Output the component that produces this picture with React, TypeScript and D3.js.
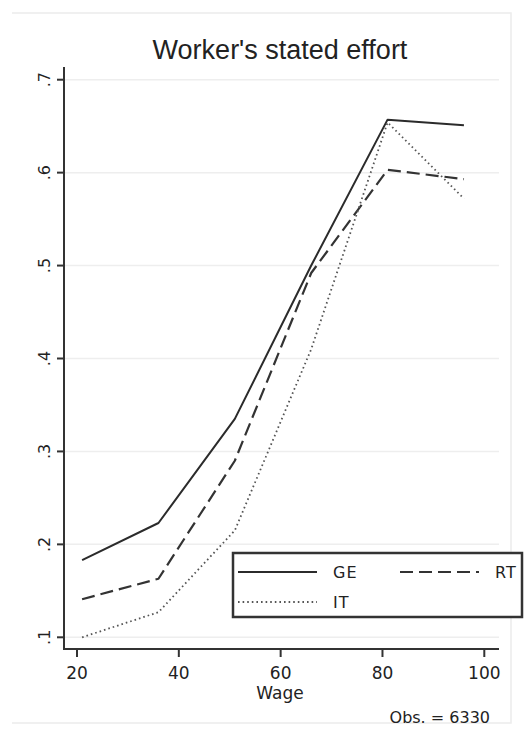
import { useRef, useEffect } from 'react';
import * as d3 from 'd3';

const wages = [21, 36, 51, 66, 81, 96];
const geValues = [0.183, 0.223, 0.335, 0.5, 0.657, 0.651];
const rtValues = [0.141, 0.163, 0.29, 0.492, 0.603, 0.593];
const itValues = [0.1, 0.127, 0.215, 0.41, 0.654, 0.572];
const xTicks = [20, 40, 60, 80, 100];
const yTicks = [0.1, 0.2, 0.3, 0.4, 0.5, 0.6, 0.7];
const yTickLabels = ['.1', '.2', '.3', '.4', '.5', '.6', '.7'];

const series = [
  { name: 'GE', values: geValues, dash: null, width: 2, color: '#2b2b2b' },
  { name: 'RT', values: rtValues, dash: '13,6', width: 2.2, color: '#333' },
  { name: 'IT', values: itValues, dash: '1.6,3', width: 1.8, color: '#555' },
];

export default function App() {
  const ref = useRef<SVGSVGElement>(null);
  const width = 525;
  const height = 734;

  useEffect(() => {
    if (!ref.current) return;
    const svg = d3.select(ref.current);
    svg.selectAll('*').remove();

    const x = d3.scaleLinear().domain([20, 100]).range([77, 484.3]);
    const y = d3.scaleLinear().domain([0.1, 0.7]).range([637.3, 79.7]);
    const left = 64;
    const right = 499;
    const top = 67;
    const bottom = 649;

    svg.append('rect').attr('width', width).attr('height', height).attr('fill', '#fff');

    // faint outer frame
    svg
      .append('path')
      .attr('d', `M12,13H511V723H12`)
      .attr('fill', 'none')
      .attr('stroke', '#ececec')
      .attr('stroke-width', 1.5);

    // grid
    svg
      .append('g')
      .selectAll('line')
      .data(yTicks)
      .join('line')
      .attr('x1', left)
      .attr('x2', right)
      .attr('y1', d => y(d))
      .attr('y2', d => y(d))
      .attr('stroke', '#eeeeee')
      .attr('stroke-width', 1.5);

    // title
    svg
      .append('text')
      .attr('x', 280)
      .attr('y', 59)
      .attr('text-anchor', 'middle')
      .attr('font-family', 'Liberation Sans, Arial, sans-serif')
      .attr('font-size', 27)
      .attr('fill', '#222')
      .text("Worker's stated effort");

    // lines
    const line = d3
      .line<number>()
      .x((_, i) => x(wages[i]))
      .y(d => y(d));

    series.forEach(s => {
      svg
        .append('path')
        .attr('d', line(s.values))
        .attr('fill', 'none')
        .attr('stroke', s.color)
        .attr('stroke-width', s.width)
        .attr('stroke-dasharray', s.dash)
        .attr('stroke-linejoin', 'round');
    });

    // y axis
    const yAxis = svg.append('g');
    yAxis
      .append('line')
      .attr('x1', left)
      .attr('x2', left)
      .attr('y1', top)
      .attr('y2', bottom + 1)
      .attr('stroke', '#333')
      .attr('stroke-width', 2);
    yAxis
      .selectAll('line.tick')
      .data(yTicks)
      .join('line')
      .attr('class', 'tick')
      .attr('x1', left - 7)
      .attr('x2', left)
      .attr('y1', d => y(d))
      .attr('y2', d => y(d))
      .attr('stroke', '#333')
      .attr('stroke-width', 2);
    yAxis
      .selectAll('text')
      .data(yTicks)
      .join('text')
      .attr('transform', d => `translate(50,${y(d)}) rotate(-90)`)
      .attr('text-anchor', 'middle')
      .attr('font-family', 'DejaVu Sans, sans-serif')
      .attr('font-size', 16)
      .attr('fill', '#222')
      .text((_, i) => yTickLabels[i]);

    // x axis
    const xAxis = svg.append('g');
    xAxis
      .append('line')
      .attr('x1', left - 1)
      .attr('x2', right)
      .attr('y1', bottom)
      .attr('y2', bottom)
      .attr('stroke', '#333')
      .attr('stroke-width', 2);
    xAxis
      .selectAll('line.tick')
      .data(xTicks)
      .join('line')
      .attr('class', 'tick')
      .attr('x1', d => x(d))
      .attr('x2', d => x(d))
      .attr('y1', bottom)
      .attr('y2', bottom + 8)
      .attr('stroke', '#333')
      .attr('stroke-width', 2);
    xAxis
      .selectAll('text')
      .data(xTicks)
      .join('text')
      .attr('x', d => x(d))
      .attr('y', 679)
      .attr('text-anchor', 'middle')
      .attr('font-family', 'DejaVu Sans, sans-serif')
      .attr('font-size', 17)
      .attr('fill', '#222')
      .text(d => d);

    svg
      .append('text')
      .attr('x', 280)
      .attr('y', 699)
      .attr('text-anchor', 'middle')
      .attr('font-family', 'DejaVu Sans, sans-serif')
      .attr('font-size', 17)
      .attr('fill', '#222')
      .text('Wage');

    svg
      .append('text')
      .attr('x', 490)
      .attr('y', 723)
      .attr('text-anchor', 'end')
      .attr('font-family', 'DejaVu Sans, sans-serif')
      .attr('font-size', 16)
      .attr('fill', '#222')
      .text('Obs. = 6330');

    // legend
    const lg = svg.append('g');
    lg.append('rect')
      .attr('x', 233)
      .attr('y', 553)
      .attr('width', 289)
      .attr('height', 64)
      .attr('fill', '#fff')
      .attr('stroke', '#333')
      .attr('stroke-width', 2.5);
    const legendPos = [
      { x: 238, y: 572 },
      { x: 400, y: 572 },
      { x: 238, y: 602 },
    ];
    series.forEach((s, i) => {
      const p = legendPos[i];
      lg.append('line')
        .attr('x1', p.x)
        .attr('x2', p.x + 79)
        .attr('y1', p.y)
        .attr('y2', p.y)
        .attr('stroke', s.color)
        .attr('stroke-width', s.width)
        .attr('stroke-dasharray', s.dash);
      lg.append('text')
        .attr('x', p.x + 95)
        .attr('y', p.y + 6)
        .attr('font-family', 'DejaVu Sans, sans-serif')
        .attr('font-size', 16)
        .attr('letter-spacing', 1)
        .attr('fill', '#222')
        .text(s.name);
    });
  }, []);

  return (
    <svg
      ref={ref}
      width={width}
      height={height}
      style={{ position: 'absolute', left: 0, top: 0 }}
    />
  );
}
